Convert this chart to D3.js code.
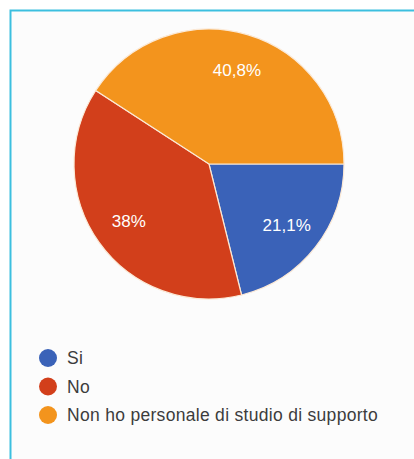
<!DOCTYPE html>
<html>
<head>
<meta charset="utf-8">
<script src="https://cdn.jsdelivr.net/npm/d3@7"></script>
<style>
  body { margin: 0; background: #fff; }
  svg { display: block; }
</style>
</head>
<body>
<div id="chart"></div>
<script>
const categories = ["Si", "No", "Non ho personale di studio di supporto"]
const values = [21.1, 38, 40.8]
const labels = ["21,1%", "38%", "40,8%"]
const colors = ["#3a62b8", "#d23f1b", "#f3941d"]

const width = 414, height = 459
const cx = 209, cy = 164, radius = 135

var svg = d3.select('#chart').append("svg")
    .attr("width", width)
    .attr("height", height)

// panel background + cyan frame (left and top visible)
svg.append("rect")
    .attr("x", 10).attr("y", 10)
    .attr("width", width - 10).attr("height", height - 10)
    .attr("fill", "#fcfcfc")
svg.append("path")
    .attr("d", `M10.5,${height} V10.5 H${width}`)
    .attr("fill", "none")
    .attr("stroke", "#3cbfdf")
    .attr("stroke-width", 2)

// slices start at 3 o'clock, clockwise
var pie = d3.pie().sort(null)
    .startAngle(Math.PI / 2)
    .endAngle(Math.PI / 2 + 2 * Math.PI)

var arcs = pie(values)
var arc = d3.arc().innerRadius(0).outerRadius(radius)
var labelArc = d3.arc().innerRadius(radius * 0.73).outerRadius(radius * 0.73)

var g = svg.append("g").attr("transform", `translate(${cx},${cy})`)

g.selectAll("path")
    .data(arcs).enter()
    .append("path")
    .attr("d", arc)
    .attr("fill", (d, i) => colors[i])
    .attr("stroke", "#fbe9d6")
    .attr("stroke-width", 1.2)

g.selectAll("text")
    .data(arcs).enter()
    .append("text")
    .attr("transform", (d) => `translate(${labelArc.centroid(d)})`)
    .attr("text-anchor", "middle")
    .attr("dy", "0.36em")
    .style("font-family", "Liberation Sans, Arial, sans-serif")
    .style("font-size", "17px")
    .attr("fill", "#fff")
    .text((d, i) => labels[i])

// legend
var legend = svg.append("g").attr("transform", "translate(48,358)")
var item = legend.selectAll("g")
    .data(categories).enter()
    .append("g")
    .attr("transform", (d, i) => `translate(0,${i * 28.5})`)

item.append("circle")
    .attr("r", 9)
    .attr("fill", (d, i) => colors[i])

item.append("text")
    .attr("x", 19)
    .attr("dy", "0.36em")
    .style("font-family", "Liberation Sans, Arial, sans-serif")
    .style("font-size", "17.5px")
    .style("letter-spacing", "0.3px")
    .attr("fill", "#3c3c3c")
    .text((d) => d)
</script>
</body>
</html>
